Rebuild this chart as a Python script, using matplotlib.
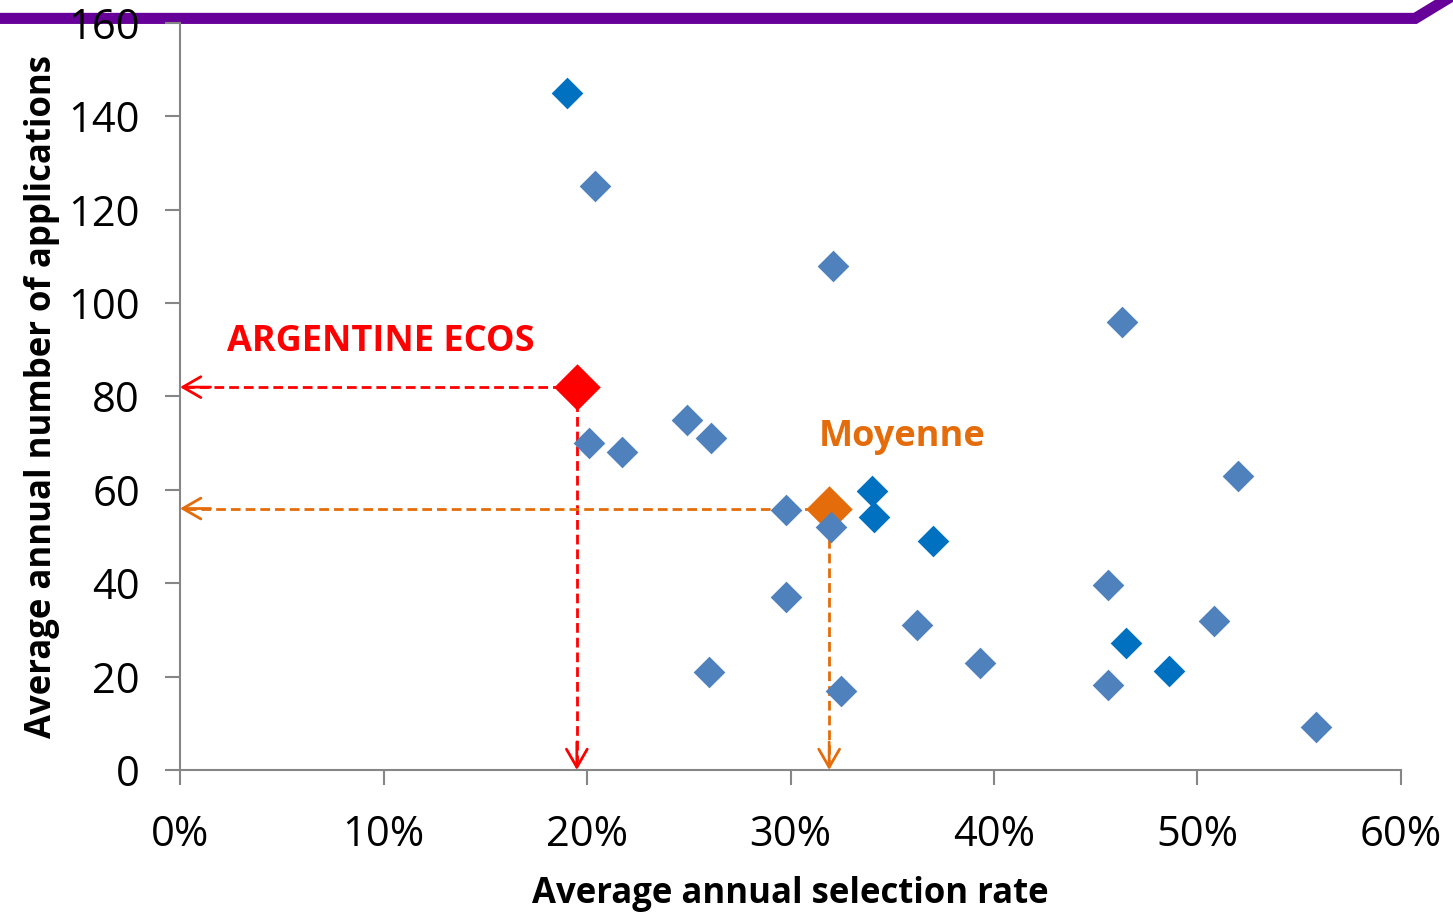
import matplotlib.pyplot as plt
from matplotlib.lines import Line2D
from matplotlib.ticker import FuncFormatter

plt.rcParams['font.family'] = ['Open Sans', 'DejaVu Sans']

# Data (selection rate in %, applications per year)
rate_light = [20.4, 32.1, 46.3, 20.1, 21.7, 24.9, 26.1, 29.8, 32.0, 29.8,
              26.0, 32.5, 36.2, 39.3, 45.6, 45.6, 50.8, 52.0, 55.8]
apps_light = [125, 108, 96, 70, 68, 75, 71, 55.7, 52, 37,
              21, 17, 31, 23, 39.6, 18.2, 32, 63, 9.2]
rate_dark = [19.0, 34.0, 34.1, 37.0, 46.5, 48.6]
apps_dark = [145, 59.8, 54.2, 49, 27.2, 21.2]
argentine = (19.5, 82)
moyenne = (31.9, 56)

fig = plt.figure(figsize=(14.53, 9.15), dpi=100)
ax = fig.add_axes([0.1239, 0.1585, 0.8403, 0.8164])
ax.patch.set_alpha(0)

# purple band along the top
fig.add_artist(Line2D([0, 0.974, 1.0], [0.9799, 0.9799, 1.005], color='#660099',
                      lw=8, solid_joinstyle='miter', zorder=-1))

ax.scatter(rate_light, apps_light, marker='D', s=260, color='#4F81BD', zorder=3, linewidths=0)
ax.scatter(rate_dark, apps_dark, marker='D', s=260, color='#0070C0', zorder=3, linewidths=0)

def guide(pt, col):
    x, y = pt
    ax.plot([x, 0.3], [y, y], ls=(0, (3.5, 1.8)), color=col, lw=2, zorder=2)
    ax.plot([x, x], [y, 2], ls=(0, (3.5, 1.8)), color=col, lw=2, zorder=2)
    ap = dict(arrowstyle='->,head_length=1.3,head_width=0.75', color=col, lw=2,
              shrinkA=0, shrinkB=0)
    ax.annotate('', xy=(0, y), xytext=(1.5, y), arrowprops=ap)
    ax.annotate('', xy=(x, 0), xytext=(x, 6), arrowprops=ap)

guide(argentine, '#FF0000')
guide(moyenne, '#E46C0A')
ax.scatter(*argentine, marker='D', s=560, color='#FF0000', zorder=4, linewidths=0)
ax.scatter(*moyenne, marker='D', s=560, color='#E46C0A', zorder=2.5, linewidths=0)

ax.text(2.3, 91.7, 'ARGENTINE ECOS', color='#FF0000', fontsize=26, fontweight='bold', va='center')
ax.text(31.4, 71.3, 'Moyenne', color='#E46C0A', fontsize=26, fontweight='bold', va='center')

ax.set_xlim(0, 60)
ax.set_ylim(0, 160)
ax.set_xticks(range(0, 61, 10))
ax.set_yticks(range(0, 161, 20))
ax.xaxis.set_major_formatter(FuncFormatter(lambda v, p: f'{v:.0f}%'))
for s in ['top', 'right']:
    ax.spines[s].set_visible(False)
for s in ['left', 'bottom']:
    ax.spines[s].set_color('#868686')
    ax.spines[s].set_linewidth(1.5)
ax.tick_params(axis='both', length=10.8, width=1.5, color='#868686', labelsize=30)
ax.tick_params(axis='x', pad=21)
ax.tick_params(axis='y', pad=18)

ax.set_xlabel('Average annual selection rate', fontsize=25, fontweight='bold', labelpad=14)
ax.set_ylabel('Average annual number of applications', fontsize=25, fontweight='bold', labelpad=6)

fig.savefig('out.png', dpi=100)
